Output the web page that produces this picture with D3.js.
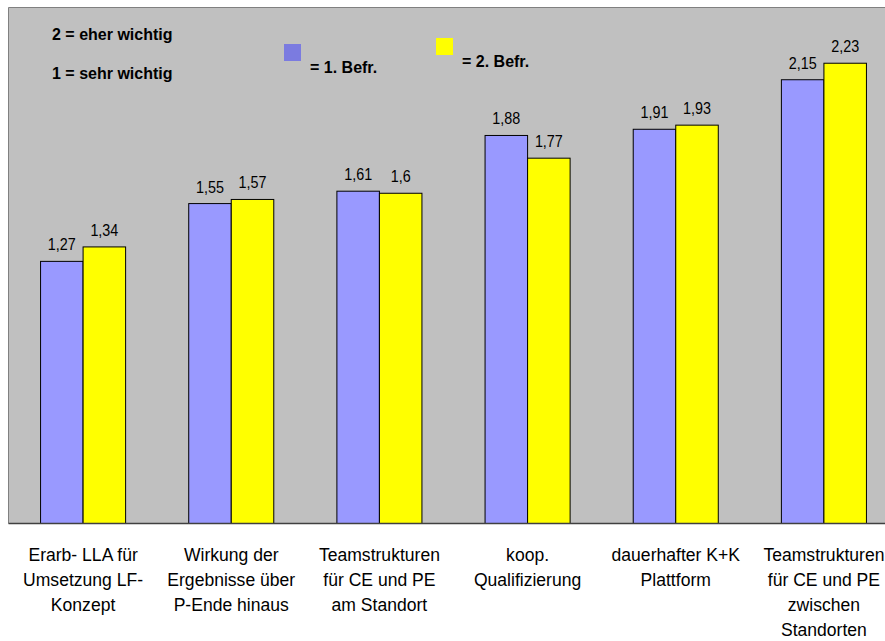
<!DOCTYPE html>
<html>
<head>
<meta charset="utf-8">
<script src="https://cdn.jsdelivr.net/npm/d3@7/dist/d3.min.js"></script>
<style>
  html, body { margin: 0; padding: 0; background: #ffffff; }
  svg { display: block; font-family: "Liberation Sans", Arial, sans-serif; }
</style>
</head>
<body>
<svg id="chart" width="885" height="641"></svg>
<script>
// Categories (each label broken into its display lines)
const categories = [
  ["Erarb- LLA für", "Umsetzung LF-", "Konzept"],
  ["Wirkung der", "Ergebnisse über", "P-Ende hinaus"],
  ["Teamstrukturen", "für CE und PE", "am Standort"],
  ["koop.", "Qualifizierung"],
  ["dauerhafter K+K", "Plattform"],
  ["Teamstrukturen", "für CE und PE", "zwischen", "Standorten"]
];
const seriesNames = ["= 1. Befr.", "= 2. Befr."];
const befragung1 = [1.27, 1.55, 1.61, 1.88, 1.91, 2.15];
const befragung2 = [1.34, 1.57, 1.60, 1.77, 1.93, 2.23];
const scaleNotes = ["2 = eher wichtig", "1 = sehr wichtig"];
const yDomain = [0, 2.5];

const seriesColors = ["#9999ff", "#ffff00"];
const legendColors = ["#7b7be0", "#ffff00"];

const svg = d3.select("#chart");

// Plot area geometry
const plot = { left: 8.5, top: 7.5, right: 898, bottom: 523.5 };

const keys = categories.map((c, i) => i);
const x0 = d3.scaleBand()
  .domain(keys)
  .range([plot.left + 0.5, plot.right])
  .paddingInner(0.426)
  .paddingOuter(0.213);
const x1 = d3.scaleBand()
  .domain([0, 1])
  .range([0, x0.bandwidth()]);
const y = d3.scaleLinear().domain(yDomain).range([plot.bottom, plot.top]);

const fmt = d3.formatLocale({ decimal: ",", thousands: ".", grouping: [3], currency: ["", " €"] }).format("");

// Gray plot background
svg.append("rect")
  .attr("x", plot.left).attr("y", plot.top)
  .attr("width", plot.right - plot.left).attr("height", plot.bottom - plot.top)
  .attr("fill", "#c0c0c0");

// Plot frame (top and left edges)
svg.append("path")
  .attr("d", `M${plot.left},${plot.bottom}V${plot.top}H${plot.right}`)
  .attr("fill", "none").attr("stroke", "#808080").attr("stroke-width", 1);

// Bars
const data = keys.map(i => ({ i, values: [befragung1[i], befragung2[i]] }));
const groups = svg.append("g").selectAll("g")
  .data(data).join("g")
  .attr("transform", d => `translate(${x0(d.i)},0)`);

groups.selectAll("rect")
  .data(d => d.values.map((v, s) => ({ v, s })))
  .join("rect")
  .attr("x", d => x1(d.s))
  .attr("y", d => y(d.v))
  .attr("width", x1.bandwidth())
  .attr("height", d => y(0) - y(d.v))
  .attr("fill", d => seriesColors[d.s])
  .attr("stroke", "#000")
  .attr("stroke-width", 1);

// Value labels (slightly condensed type)
groups.selectAll("text")
  .data(d => d.values.map((v, s) => ({ v, s })))
  .join("text")
  .attr("transform", d => `translate(${x1(d.s) + x1.bandwidth() / 2},${y(d.v) - 11}) scale(0.87,1)`)
  .attr("text-anchor", "middle")
  .attr("font-size", 16.5)
  .attr("fill", "#000")
  .text(d => fmt(d.v));

// Category axis line
svg.append("line")
  .attr("x1", plot.left).attr("x2", plot.right)
  .attr("y1", plot.bottom).attr("y2", plot.bottom)
  .attr("stroke", "#404040").attr("stroke-width", 1.5);

// Category labels
const catLabels = svg.append("g").selectAll("text")
  .data(data).join("text")
  .attr("transform", d => `translate(${x0(d.i) + x0.bandwidth() / 2},561) scale(0.95,1)`)
  .attr("text-anchor", "middle")
  .attr("font-size", 18.5)
  .attr("fill", "#000");
catLabels.selectAll("tspan")
  .data(d => categories[d.i])
  .join("tspan")
  .attr("x", 0)
  .attr("dy", (d, j) => j === 0 ? 0 : 25)
  .text(d => d);

// Scale notes
svg.append("g").selectAll("text")
  .data(scaleNotes).join("text")
  .attr("x", 52)
  .attr("y", (d, i) => 39.5 + i * 39)
  .attr("font-size", 16)
  .attr("font-weight", "bold")
  .attr("fill", "#000")
  .text(d => d);

// Legend
const legendPos = [
  { sx: 284, sy: 44, tx: 310, ty: 72.5 },
  { sx: 436, sy: 38, tx: 462, ty: 66.5 }
];
const legend = svg.append("g").selectAll("g")
  .data(seriesNames).join("g");
legend.append("rect")
  .attr("x", (d, i) => legendPos[i].sx)
  .attr("y", (d, i) => legendPos[i].sy)
  .attr("width", 17).attr("height", 17)
  .attr("fill", (d, i) => legendColors[i]);
legend.append("text")
  .attr("x", (d, i) => legendPos[i].tx)
  .attr("y", (d, i) => legendPos[i].ty)
  .attr("font-size", 16)
  .attr("font-weight", "bold")
  .attr("fill", "#000")
  .text(d => d);
</script>
</body>
</html>
